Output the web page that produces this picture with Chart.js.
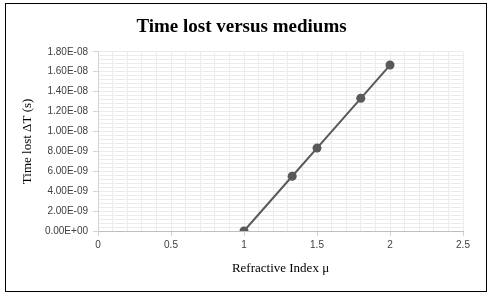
<html>
<head>
  <title>Time lost versus mediums</title>
  <script src="https://cdn.jsdelivr.net/npm/chart.js@4.4.1/dist/chart.umd.min.js"></script>
  <style>
    body { margin: 0; background: #fff; }
    .frame { position: absolute; left: 5px; top: 3px; width: 480px; height: 287px; border: 1px solid #000; }
    #chart { position: absolute; left: 0; top: 0; }
  </style>
</head>
<body>
<div class="frame"></div>
<canvas id="chart" width="493" height="298"></canvas>
<script>
// refractive index vs time lost (s)
var refractiveIndex = [1, 1.33, 1.5, 1.8, 2];
var timeLost = [0, 5.5e-9, 8.33e-9, 1.333e-8, 1.667e-8];

var xTicks = [0, 0.5, 1, 1.5, 2, 2.5];

function sciLabel(v) {
  var s = Number(v).toExponential(2).split('e');
  var sign = s[1][0];
  var digits = s[1].slice(1);
  if (digits.length < 2) digits = '0' + digits;
  return s[0] + 'E' + sign + digits;
}

var serif = "'Liberation Serif', 'Times New Roman', serif";
var sans = "'Liberation Sans', Arial, sans-serif";
var major = '#d4d4d4';
var minor = '#ececec';

var points = [];
for (var i = 0; i < refractiveIndex.length; i++) {
  points.push({ x: refractiveIndex[i], y: timeLost[i] });
}

new Chart(document.getElementById('chart').getContext('2d'), {
  type: 'scatter',
  data: {
    datasets: [{
      data: points,
      showLine: true,
      borderColor: '#595959',
      backgroundColor: '#595959',
      borderWidth: 2,
      pointRadius: 4.5,
      pointBorderWidth: 0,
      xAxisID: 'x',
      yAxisID: 'y'
    }]
  },
  options: {
    responsive: false,
    animation: false,
    layout: { padding: { left: 20, right: 30, top: 0, bottom: 22 } },
    plugins: {
      legend: { display: false },
      tooltip: { enabled: false },
      title: {
        display: true,
        text: 'Time lost versus mediums',
        color: '#000',
        font: { family: serif, size: 19, weight: 'bold' },
        padding: { top: 16, bottom: 13 }
      }
    },
    scales: {
      x: {
        type: 'linear',
        position: 'bottom',
        min: 0,
        max: 2.5,
        afterBuildTicks: function (s) { s.ticks = xTicks.map(function (v) { return { value: v }; }); },
        afterFit: function (s) { s.height = 45; },
        ticks: {
          color: '#404040',
          font: { family: sans, size: 10 },
          padding: 3,
          maxRotation: 0,
          callback: function (v) { return String(v); }
        },
        grid: { color: major, tickColor: major, tickLength: 5 },
        border: { color: '#bfbfbf' },
        title: {
          display: true,
          text: 'Refractive Index μ',
          color: '#000',
          font: { family: serif, size: 13 },
          padding: 0
        }
      },
      y: {
        type: 'linear',
        position: 'left',
        min: 0,
        max: 1.8e-8,
        afterFit: function (s) { s.width = 78; },
        ticks: {
          stepSize: 2e-9,
          color: '#404040',
          font: { family: sans, size: 10 },
          padding: 5,
          callback: function (v) { return sciLabel(v); }
        },
        grid: { color: major, tickColor: major, tickLength: 5 },
        border: { color: major },
        title: {
          display: true,
          text: 'Time lost ΔT (s)',
          color: '#000',
          font: { family: serif, size: 13 },
          padding: 0
        }
      },
      xm: {
        type: 'linear',
        position: 'bottom',
        min: 0,
        max: 2.5,
        z: -1,
        afterFit: function (s) { s.height = 0; },
        ticks: { display: false, stepSize: 0.1 },
        grid: { color: minor, drawTicks: false },
        border: { display: false }
      },
      ym: {
        type: 'linear',
        position: 'left',
        min: 0,
        max: 1.8e-8,
        z: -1,
        afterFit: function (s) { s.width = 0; },
        ticks: { display: false, stepSize: 4e-10 },
        grid: { color: minor, drawTicks: false },
        border: { display: false }
      }
    }
  }
});
</script>
</body>
</html>
